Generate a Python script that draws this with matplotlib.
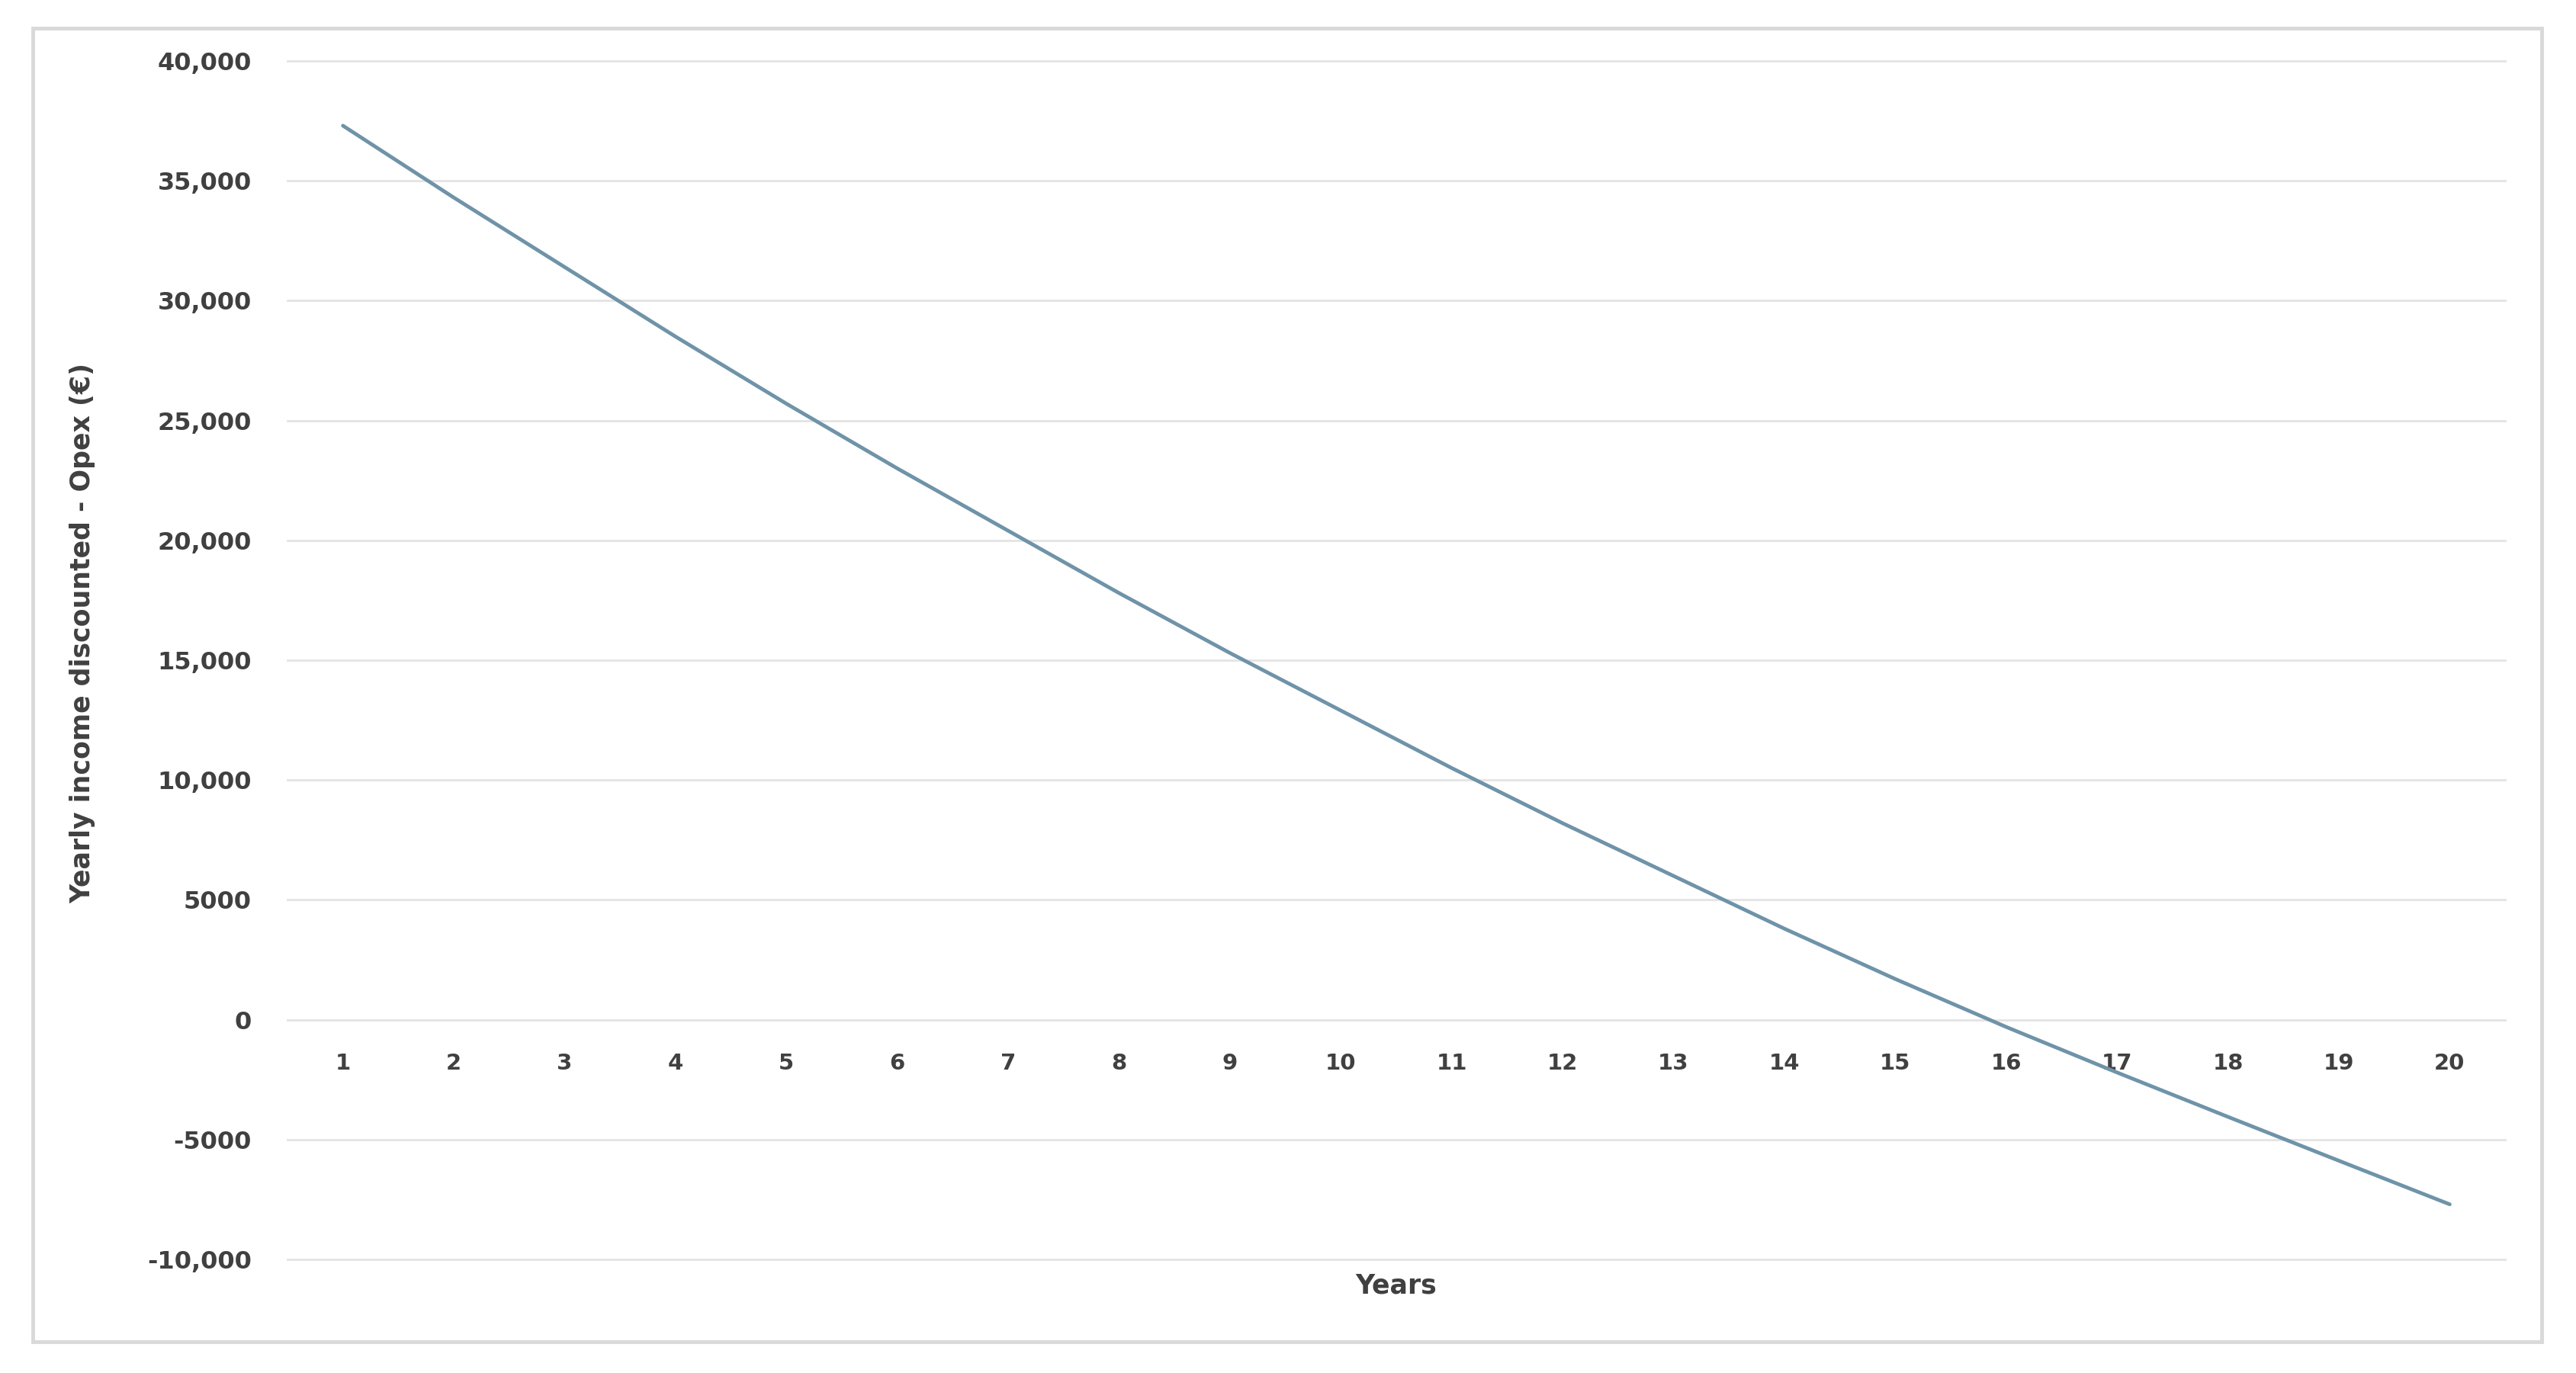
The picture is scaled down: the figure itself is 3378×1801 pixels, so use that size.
import matplotlib
matplotlib.use("Agg")
import matplotlib.pyplot as plt
from matplotlib.patches import Rectangle
from matplotlib.ticker import FuncFormatter

years = list(range(1, 21))
income = [37300, 34300, 31400, 28500, 25700, 23000, 20400, 17800, 15300, 12900,
          10500, 8200, 6000, 3800, 1700, -300, -2200, -4050, -5880, -7700]
y_ticks = [-10000, -5000, 0, 5000, 10000, 15000, 20000, 25000, 30000, 35000, 40000]

text_color = "#404040"
grid_color = "#e4e4e4"
line_color = "#6f93a8"


def fmt(v, pos):
    # excel style: thousands separator only from 10,000 upwards
    if abs(v) >= 10000:
        return f"{v:,.0f}"
    return f"{v:.0f}"


fig = plt.figure(figsize=(33.78, 18.01), dpi=100)
fig.patch.set_facecolor("white")

# chart area border
fig.patches.append(Rectangle((43 / 3378, 1 - 1760 / 1801), (3333 - 43) / 3378, (1760 - 37) / 1801,
                             transform=fig.transFigure, fill=False, edgecolor="#d9d9d9", lw=3.5))

ax = fig.add_axes([0.1116, 0.0827, 0.8609, 0.8729])
ax.plot(years, income, color=line_color, lw=3.5, solid_capstyle="round")

ax.set_xlim(0.5, 20.5)
ax.set_ylim(-10000, 40000)
ax.set_yticks(y_ticks)
ax.yaxis.set_major_formatter(FuncFormatter(fmt))
ax.set_xticks(years)
ax.set_xticklabels([str(y) for y in years])

ax.grid(axis="y", color=grid_color, lw=2)
for gl in ax.get_ygridlines():
    gl.set_clip_on(False)
ax.set_axisbelow(True)
for s in ["top", "right", "left"]:
    ax.spines[s].set_visible(False)
ax.spines["bottom"].set_position(("data", 0))
ax.spines["bottom"].set_visible(False)

ax.tick_params(axis="y", length=0, pad=34, labelsize=23, labelcolor=text_color)
ax.tick_params(axis="x", length=0, pad=31, labelsize=21, labelcolor=text_color)
for lab in ax.get_xticklabels() + ax.get_yticklabels():
    lab.set_fontweight("bold")

fig.text(0.542, 0.0633, "Years", ha="center", va="center", fontsize=25,
         fontweight="bold", color=text_color)
fig.text(0.032, 0.539, "Yearly income discounted - Opex (€)", ha="center", va="center",
         rotation=90, fontsize=25, fontweight="bold", color=text_color)

fig.savefig("out.png", dpi=100)
